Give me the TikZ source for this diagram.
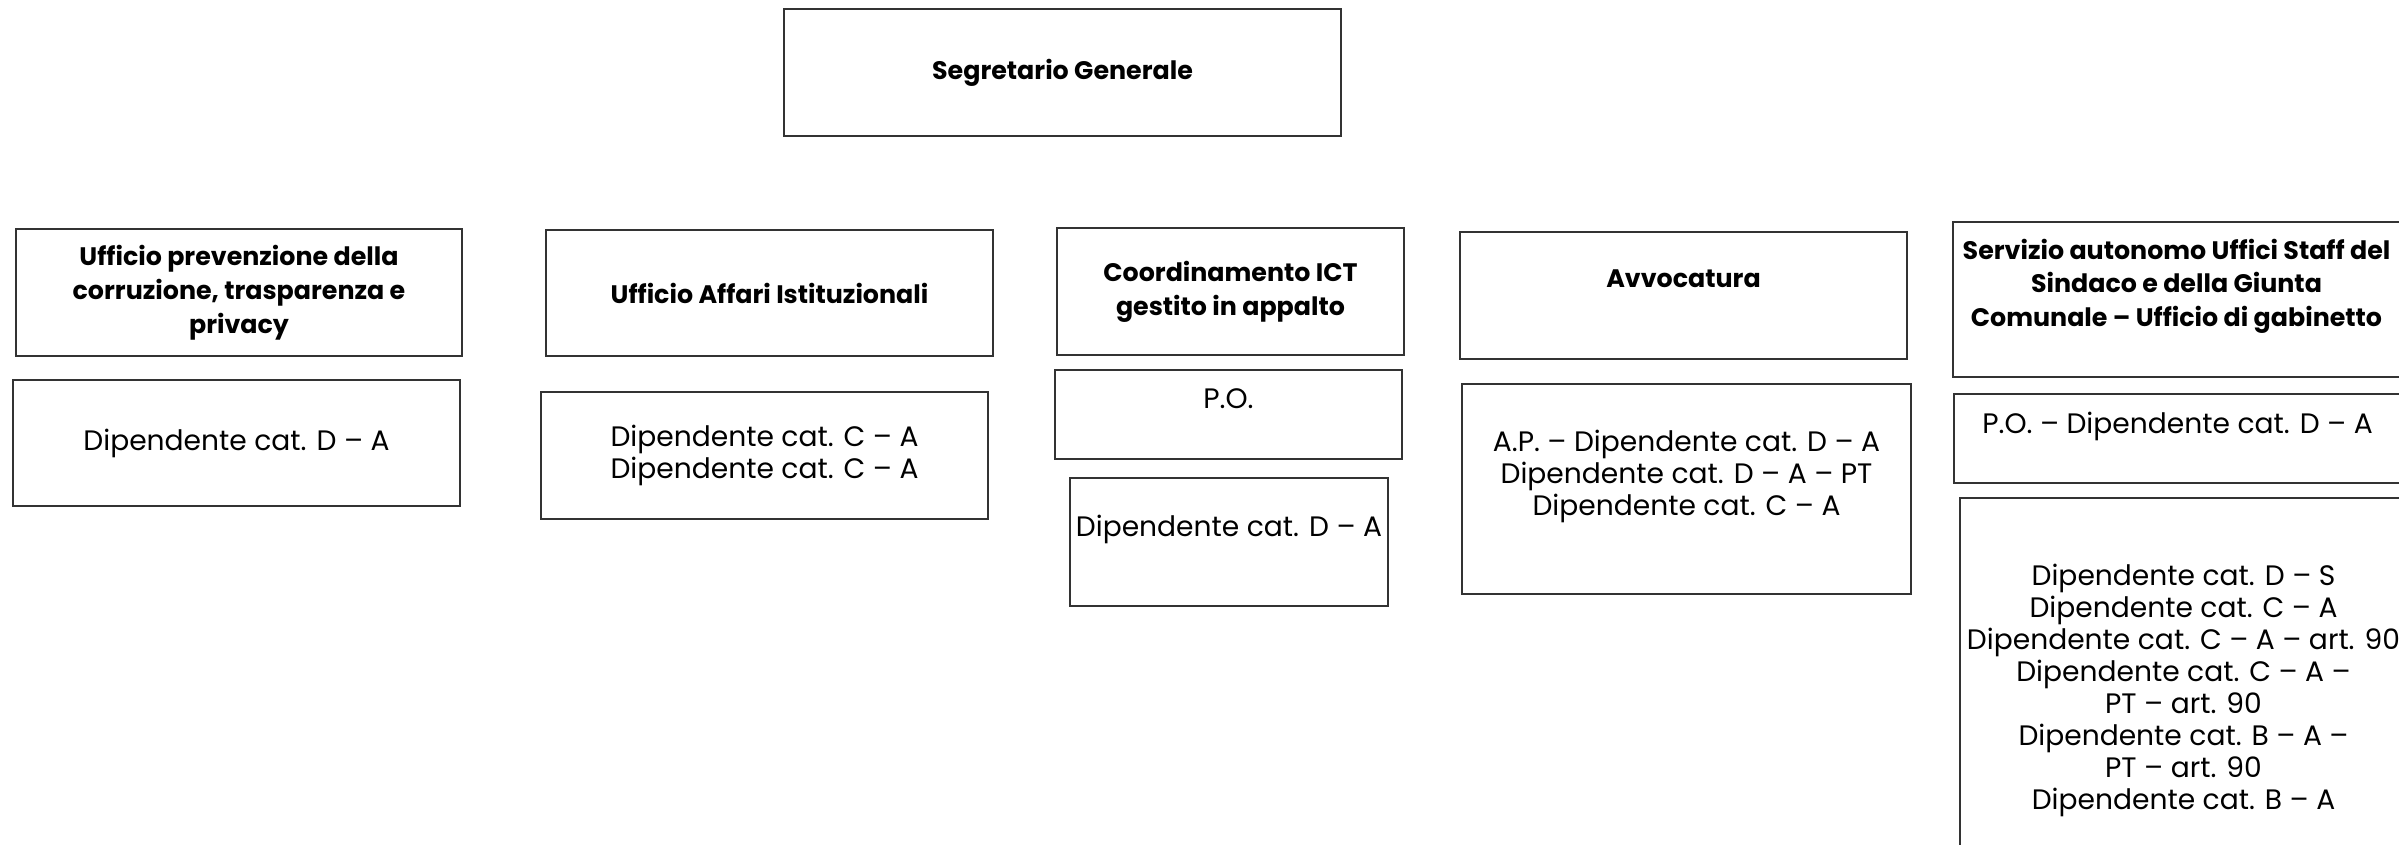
\documentclass[tikz,border=0pt]{standalone}
\usepackage{fontspec}
\setmainfont{Poppins}
\tikzset{
	box/.style={draw=black!80, line width=0.5pt, align=center, inner sep=0pt, font=\fontsize{8}{9.1}\selectfont},
	head/.style={box, font=\fontsize{7.2}{9.6}\selectfont\bfseries}
}
\begin{document}
\begin{tikzpicture}[x=0.01cm, y=-0.01cm]
			\useasboundingbox (0,0) rectangle (2399,844);
			\node [head, minimum width=5.57cm, minimum height=1.27cm] (segr) at (1062.5,72.5) {Segretario Generale};
			\node [head, minimum width=4.46cm, minimum height=1.27cm] (prev) at (239,292.5) {Ufficio prevenzione della\\corruzione, trasparenza e\\privacy};
			\node [box, minimum width=4.47cm, minimum height=1.26cm] (prevd) at (236.5,443) {Dipendente cat. D -- A};
			\node [head, minimum width=4.47cm, minimum height=1.26cm] (affari) at (769.5,293) {Ufficio Affari Istituzionali};
			\node [box, minimum width=4.47cm, minimum height=1.27cm] (affarid) at (764.5,455.5) {Dipendente cat. C -- A\\Dipendente cat. C -- A};
			\node [head, minimum width=3.47cm, minimum height=1.27cm] (ict) at (1230.5,291.5) {Coordinamento ICT\\gestito in appalto};
			\node [box, minimum width=3.47cm, minimum height=0.89cm] (ictpo) at (1228.5,414.5) {P.O.\\\mbox{}};
			\node [box, minimum width=3.18cm, minimum height=1.28cm] (ictd) at (1229,542) {Dipendente cat. D -- A\\\mbox{}};
			\node [head, minimum width=4.47cm, minimum height=1.27cm] (avv) at (1683.5,295.5) {Avvocatura\\\mbox{}};
			\node [box, minimum width=4.49cm, minimum height=2.10cm] (avvd) at (1686.5,489) {A.P. -- Dipendente cat. D -- A\\Dipendente cat. D -- A -- PT\\Dipendente cat. C -- A\\\mbox{}};
			\node [head, minimum width=4.47cm, minimum height=1.55cm] (serv) at (2176.5,299.5) {Servizio autonomo Uffici Staff del\\Sindaco e della Giunta\\Comunale -- Ufficio di gabinetto\\\mbox{}};
			\node [box, minimum width=4.47cm, minimum height=0.89cm] (servpo) at (2177.5,438.5) {P.O. -- Dipendente cat. D -- A\\\mbox{}};
			\node [box, minimum width=4.47cm, minimum height=3.84cm] (servd) at (2183.5,690) {Dipendente cat. D -- S\\Dipendente cat. C -- A\\Dipendente cat. C -- A -- art. 90\\Dipendente cat. C -- A --\\PT -- art. 90\\Dipendente cat. B -- A --\\PT -- art. 90\\Dipendente cat. B -- A};
		\end{tikzpicture}
\end{document}
